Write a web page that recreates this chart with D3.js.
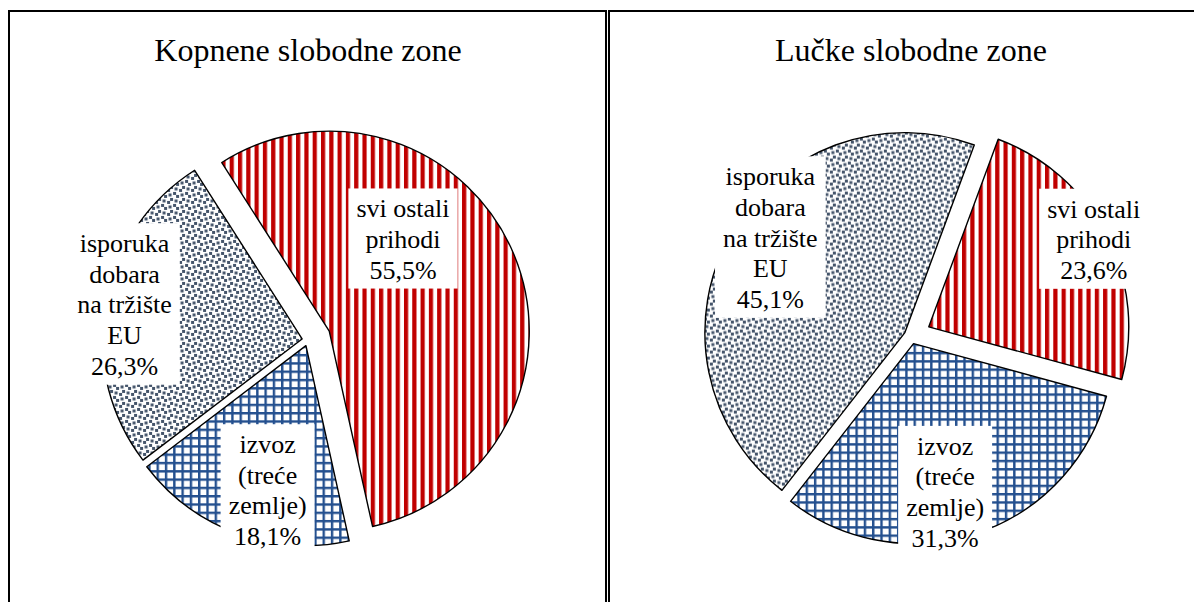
<!DOCTYPE html>
<html>
<head>
<meta charset="utf-8">
<script src="https://d3js.org/d3.v7.min.js"></script>
<style>
body { margin: 0; background: #fff; }
svg { display: block; }
svg text { font-family: 'Liberation Serif', 'Times New Roman', serif; }
</style>
</head>
<body>
<div id="chart"></div>
<script>

var width = 1194;
var height = 602;

// data
var categories = ["svi ostali prihodi", "izvoz (treće zemlje)", "isporuka dobara na tržište EU"];
var labelLines = [["svi ostali", "prihodi"], ["izvoz", "(treće", "zemlje)"], ["isporuka", "dobara", "na tržište", "EU"]];
var titles = ["Kopnene slobodne zone", "Lučke slobodne zone"];
var kopneneValues = [55.5, 18.1, 26.3];
var luckeValues = [23.6, 31.3, 45.1];

// layout of the two panels (angles in degrees, clockwise from 12 o'clock)
var panels = [
  { title: titles[0], values: kopneneValues, frameX: 9, cx: 308, cy: 340, r: 200, start: -32.5,
    explode: [23, 6, 6], labelShift: [-24.4, -5, 1], labelR: [0.695, 0.775, 0.935] },
  { title: titles[1], values: luckeValues, frameX: 609, cx: 911, cy: 336, r: 200, start: 20.3,
    explode: [20, 8, 7], labelShift: [-0.8, 6, 6], labelR: [1.035, 0.795, 0.86] }
];

var fills = ["url(#stripes)", "url(#grid)", "url(#confetti)"];
var fmt = function(v) { return d3.format(".1f")(v).replace(".", ",") + "%"; };
var rad = function(deg) { return deg * Math.PI / 180; };
var serif = "'Liberation Serif', 'Times New Roman', serif";

var svg = d3.select("#chart")
  .append("svg")
  .attr("width", width)
  .attr("height", height);

var defs = svg.append("defs");

// red wide vertical stripes
var p1 = defs.append("pattern").attr("id", "stripes")
  .attr("patternUnits", "userSpaceOnUse").attr("width", 8.3).attr("height", 8.3);
p1.append("rect").attr("width", 8.3).attr("height", 8.3).attr("fill", "#fff");
p1.append("rect").attr("width", 4.2).attr("height", 8.3).attr("fill", "#C00000");

// blue grid
var p2 = defs.append("pattern").attr("id", "grid")
  .attr("patternUnits", "userSpaceOnUse").attr("width", 8.3).attr("height", 8.3);
p2.append("rect").attr("width", 8.3).attr("height", 8.3).attr("fill", "#fff");
p2.append("rect").attr("width", 8.3).attr("height", 2.4).attr("fill", "#24508F");
p2.append("rect").attr("width", 2.4).attr("height", 8.3).attr("fill", "#24508F");

// slate large confetti
var s = 1.5;
var p3 = defs.append("pattern").attr("id", "confetti")
  .attr("patternUnits", "userSpaceOnUse").attr("width", 8 * s).attr("height", 8 * s);
p3.append("rect").attr("width", 8 * s).attr("height", 8 * s).attr("fill", "#fff");
[[4, 0], [7, 7], [-1, 7], [7, -1], [-1, -1], [0, 2], [3, 3], [6, 4], [2, 6]].forEach(function(b) {
  p3.append("rect").attr("x", b[0] * s).attr("y", b[1] * s)
    .attr("width", 2 * s).attr("height", 2 * s).attr("fill", "#44546A");
});

// frames
panels.forEach(function(p) {
  svg.append("rect")
    .attr("x", p.frameX).attr("y", 11)
    .attr("width", 597).attr("height", 700)
    .attr("fill", "none")
    .attr("stroke", "#000")
    .attr("stroke-width", 2);
});

var lineH = 30.7;

panels.forEach(function(p) {
  var g = svg.append("g").attr("transform", "translate(" + p.cx + "," + p.cy + ")");

  var pie = d3.pie().sort(null).value(d => d)
    .startAngle(rad(p.start))
    .endAngle(rad(p.start) + 2 * Math.PI);
  var arcs = pie(p.values);

  var arc = d3.arc().innerRadius(0).outerRadius(p.r);

  g.selectAll("path")
    .data(arcs)
    .enter()
    .append("path")
    .attr("d", arc)
    .attr("transform", function(d, i) {
      var m = (d.startAngle + d.endAngle) / 2;
      return "translate(" + (p.explode[i] * Math.sin(m)) + "," + (-p.explode[i] * Math.cos(m)) + ")";
    })
    .attr("fill", (d, i) => fills[i])
    .attr("stroke", "#000")
    .attr("stroke-width", 1.4)
    .attr("stroke-linejoin", "round");

  // data labels
  arcs.forEach(function(d, i) {
    var m = (d.startAngle + d.endAngle) / 2 + rad(p.labelShift[i]);
    var lr = p.r * p.labelR[i];
    var lx = lr * Math.sin(m), ly = -lr * Math.cos(m);
    var lines = labelLines[i].concat([fmt(p.values[i])]);
    var n = lines.length;

    var lg = g.append("g").attr("class", "label");
    var box = lg.append("rect").attr("fill", "#fff");
    var txt = lg.append("text")
      .attr("text-anchor", "middle")
      .attr("font-family", serif)
      .attr("font-size", 26)
      .attr("fill", "#000");
    lines.forEach(function(t, k) {
      txt.append("tspan")
        .attr("x", lx)
        .attr("y", ly + (k - (n - 1) / 2) * lineH + 9.5)
        .text(t);
    });
    var w = 0;
    txt.selectAll("tspan").each(function() { w = Math.max(w, this.getComputedTextLength()); });
    var bw = w + 16, bh = n * lineH + 8;
    box.attr("x", lx - bw / 2).attr("y", ly - bh / 2)
      .attr("width", bw).attr("height", bh);
  });

  svg.append("text")
    .attr("x", p.cx)
    .attr("y", 61)
    .attr("text-anchor", "middle")
    .attr("font-family", serif)
    .attr("font-size", 32)
    .attr("fill", "#000")
    .text(p.title);
});

</script>
</body>
</html>
